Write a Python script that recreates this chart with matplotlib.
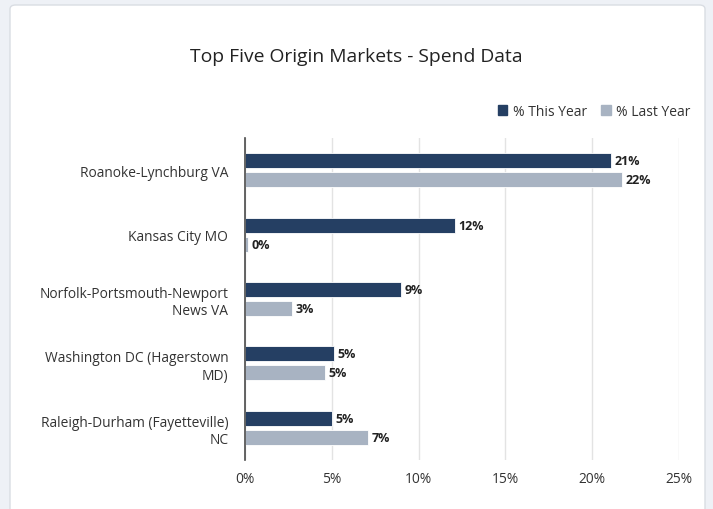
import matplotlib.pyplot as plt
from matplotlib.patches import FancyBboxPatch, Patch
import numpy as np

plt.rcParams['font.family'] = ['Open Sans', 'DejaVu Sans']

# Datos
markets = ['Roanoke-Lynchburg VA', 'Kansas City MO',
           'Norfolk-Portsmouth-Newport\nNews VA',
           'Washington DC (Hagerstown\nMD)',
           'Raleigh-Durham (Fayetteville)\nNC']
this_year = [21.1, 12.1, 9.0, 5.1, 5.0]
last_year = [21.7, 0.2, 2.7, 4.6, 7.1]
this_labels = ['21%', '12%', '9%', '5%', '5%']
last_labels = ['22%', '0%', '3%', '5%', '7%']

navy = '#253f63'
grey = '#a8b3c2'

fig = plt.figure(figsize=(7.13, 5.10), dpi=100)
fig.patch.set_facecolor('#eef1f6')

# tarjeta blanca
card = FancyBboxPatch((10 / 713, -0.05), 695 / 713, 1.05 - 6 / 510,
                      boxstyle='round,pad=0,rounding_size=0.008',
                      transform=fig.transFigure, facecolor='white',
                      edgecolor='#d9dde3', linewidth=1, zorder=-10)
fig.patches.append(card)

ax = fig.add_axes([245 / 713, 1 - 461 / 510, (679 - 245) / 713, (461 - 139) / 510])
ax.set_facecolor('none')

y = np.arange(len(markets))
h = 0.235
off = 0.148
ax.barh(y - off, this_year, height=h, color=navy, edgecolor='white', linewidth=0.6, zorder=3)
ax.barh(y + off, last_year, height=h, color=grey, edgecolor='white', linewidth=0.6, zorder=3)

for i in range(len(markets)):
    ax.text(this_year[i] + 0.2, y[i] - off, this_labels[i], va='center', ha='left',
            fontsize=9, fontweight='bold', color='#222222')
    ax.text(last_year[i] + 0.2, y[i] + off, last_labels[i], va='center', ha='left',
            fontsize=9, fontweight='bold', color='#222222')

ax.set_xlim(0, 25)
ax.set_ylim(4.5, -0.5)
ax.set_xticks([0, 5, 10, 15, 20, 25])
ax.set_xticklabels(['0%', '5%', '10%', '15%', '20%', '25%'])
ax.set_yticks(y)
ax.set_yticklabels(markets, fontsize=9.9, color='#333333')
ax.tick_params(axis='x', length=0, labelsize=9.9, labelcolor='#333333', pad=8)
ax.tick_params(axis='y', length=0, pad=12)
ax.grid(axis='x', color='#e3e3e3', linewidth=1, zorder=0)
for s in ['top', 'right', 'bottom']:
    ax.spines[s].set_visible(False)
ax.spines['left'].set_color('#4a4a4a')
ax.spines['left'].set_linewidth(1.2)
ax.spines['left'].set_zorder(4)

fig.text(0.5, 1 - 57 / 510, 'Top Five Origin Markets - Spend Data', ha='center', va='center',
         fontsize=13.9, color='#222222')

handles = [Patch(color=navy, label='% This Year'), Patch(color=grey, label='% Last Year')]
fig.legend(handles=handles, loc='center right', bbox_to_anchor=(703 / 713, 1 - 112 / 510),
           ncol=2, frameon=False, fontsize=10, handlelength=0.7, handleheight=0.7,
           handletextpad=0.4, columnspacing=1.0, labelcolor='#333333')

fig.savefig('out.png', dpi=100, facecolor=fig.get_facecolor())
